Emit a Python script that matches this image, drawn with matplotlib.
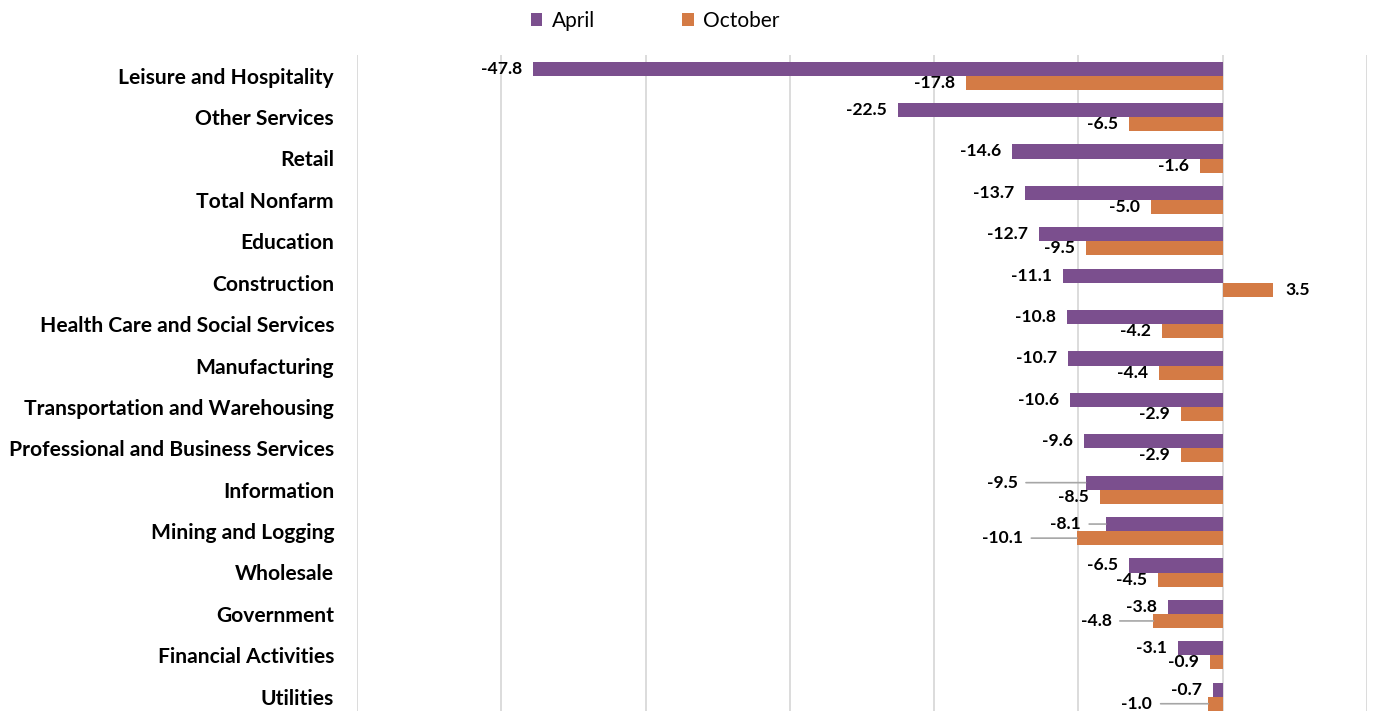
import matplotlib
matplotlib.use("Agg")
import matplotlib.pyplot as plt
import numpy as np

categories = ["Leisure and Hospitality", "Other Services", "Retail", "Total Nonfarm",
              "Education", "Construction", "Health Care and Social Services",
              "Manufacturing", "Transportation and Warehousing",
              "Professional and Business Services", "Information",
              "Mining and Logging", "Wholesale", "Government",
              "Financial Activities", "Utilities"]
april = [-47.8, -22.5, -14.6, -13.7, -12.7, -11.1, -10.8, -10.7, -10.6, -9.6,
         -9.5, -8.1, -6.5, -3.8, -3.1, -0.7]
october = [-17.8, -6.5, -1.6, -5.0, -9.5, 3.5, -4.2, -4.4, -2.9, -2.9,
           -8.5, -10.1, -4.5, -4.8, -0.9, -1.0]

# label offsets in pixels (x) for labels moved away from bars (leader lines)
april_off = {10: -68, 11: -25}
october_off = {11: -54, 13: -42, 15: -56}

purple = "#7B4F8E"
orange = "#D47B45"
font = ["Lato", "DejaVu Sans"]
plt.rcParams['font.family'] = font

W, H = 1374, 711
fig = plt.figure(figsize=(W / 100, H / 100), dpi=100)
ax_top = 55
row = 41.4
n = len(categories)
ax_h = n * row
ax = fig.add_axes([357 / W, (H - ax_top - ax_h) / H, (1367 - 357) / W, ax_h / H])

y = np.arange(n)
bh = 0.34
ax.barh(y - bh / 2, april, height=bh, color=purple, label="April", zorder=3)
ax.barh(y + bh / 2, october, height=bh, color=orange, label="October", zorder=3)

ax.set_xlim(-60, 10)
ax.set_ylim(n - 0.5, -0.5)
ax.set_xticks(np.arange(-60, 11, 10))
ax.set_xticklabels([])
ax.grid(axis="x", color="#D9D9D9", linewidth=1.3, zorder=0)
ax.set_axisbelow(True)
for s in ax.spines.values():
    s.set_visible(False)
ax.set_yticks(y)
ax.set_yticklabels(categories, fontsize=15.1, fontweight="bold", family=font)
ax.tick_params(axis="y", length=0, pad=16.5)
ax.tick_params(axis="x", length=0)

pt = 72 / 100.0
fs = 12.6


def label(val, yy, off):
    if val >= 0:
        ax.annotate(f"{val:.1f}", xy=(val, yy), xytext=(12 * pt, 0), textcoords="offset points",
                    ha="left", va="center", fontsize=fs, fontweight="bold", zorder=5)
    elif off is None:
        ax.annotate(f"{val:.1f}", xy=(val, yy), xytext=(-11 * pt, 0), textcoords="offset points",
                    ha="right", va="center", fontsize=fs, fontweight="bold", zorder=5)
    else:
        ax.annotate(f"{val:.1f}", xy=(val, yy), xytext=(off * pt, 0), textcoords="offset points",
                    ha="right", va="center", fontsize=fs, fontweight="bold", zorder=5,
                    arrowprops=dict(arrowstyle="-", color="#A6A6A6", lw=1.2,
                                    shrinkA=4, shrinkB=0))


for i in range(n):
    label(april[i], i - bh / 2, april_off.get(i))
    label(october[i], i + bh / 2, october_off.get(i))

fig.legend(loc="center", bbox_to_anchor=(655 / W, 1 - 21 / H), ncol=2, frameon=False,
           fontsize=15, handlelength=0.55, handleheight=0.55, columnspacing=4.2,
           handletextpad=0.45)

fig.savefig("out.png", dpi=100)
